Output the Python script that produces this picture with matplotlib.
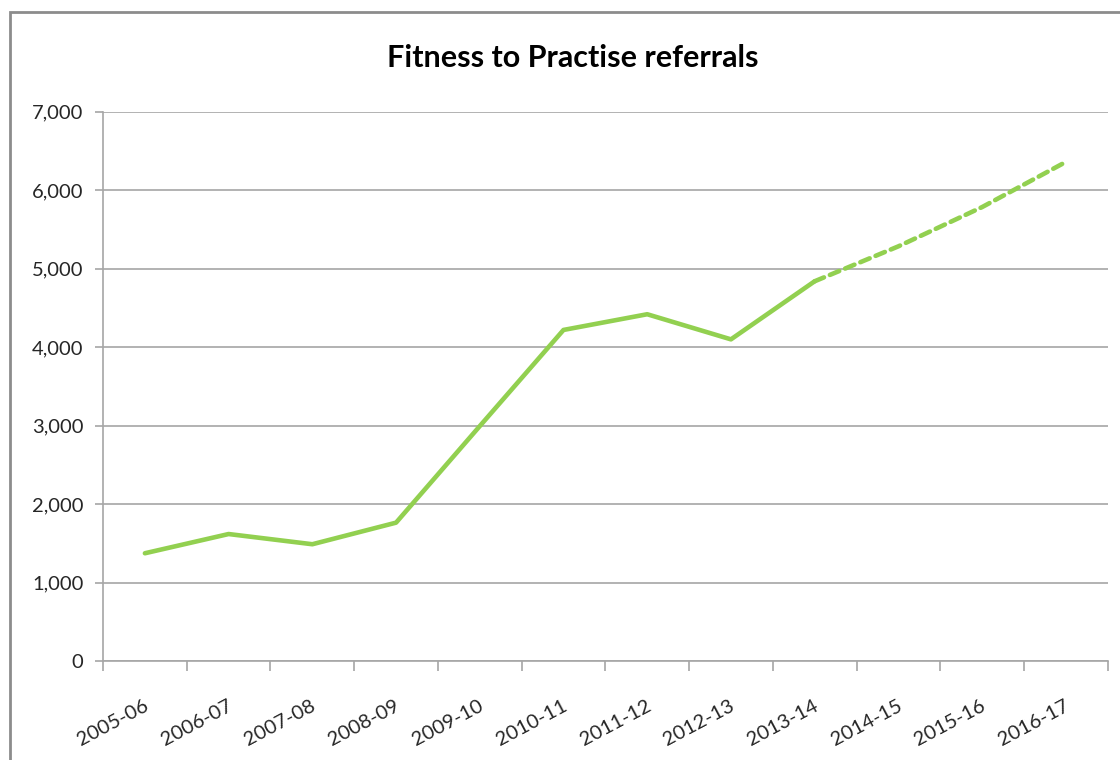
import matplotlib
matplotlib.use('Agg')
import matplotlib.pyplot as plt
from matplotlib.patches import Rectangle

# data
years = ['2005-06', '2006-07', '2007-08', '2008-09', '2009-10', '2010-11',
         '2011-12', '2012-13', '2013-14', '2014-15', '2015-16', '2016-17']
actual = [1375, 1620, 1490, 1765, 2995, 4220, 4420, 4100, 4840]
forecast = [4840, 5285, 5785, 6360]

green = '#92D050'
grey = '#a6a6a6'

plt.rcParams['font.family'] = ['Lato', 'DejaVu Sans']

fig = plt.figure(figsize=(11.2, 7.6), dpi=100)
ax = fig.add_axes([0.092, 0.130, 0.897, 0.723])

# outer chart border
fig.patches.append(Rectangle((10 / 1120, -0.05), 1.1, 0.05 + 1 - 12 / 760,
                             transform=fig.transFigure, fill=False,
                             edgecolor='#8c8c8c', linewidth=2))

x_act = list(range(len(actual)))
x_fc = list(range(len(actual) - 1, len(actual) - 1 + len(forecast)))
ax.plot(x_act, actual, color=green, linewidth=3.3, solid_capstyle='round')
ax.plot(x_fc, forecast, color=green, linewidth=3.3, linestyle=(0, (2.2, 1.4)),
        dash_capstyle='round')

ax.set_xlim(-0.5, len(years) - 0.5)
ax.set_ylim(0, 7000)
ax.set_yticks(range(0, 7001, 1000))
ax.set_yticklabels([f'{v:,}' for v in range(0, 7001, 1000)], fontsize=14.5,
                   color='#262626')
ax.yaxis.grid(True, color=grey, linewidth=1.2)
ax.set_axisbelow(True)

# category labels between boundary ticks
ax.set_xticks([i - 0.5 for i in range(len(years) + 1)])
ax.set_xticklabels([])
ax.set_xticks([i - 0.02 for i in range(len(years))], minor=True)
ax.set_xticklabels(years, minor=True, rotation=28, ha='right',
                   rotation_mode='anchor', fontsize=14.5, color='#262626')
ax.tick_params(axis='x', which='minor', length=0, pad=26)
ax.tick_params(axis='x', which='major', length=7, color=grey, width=1.2)
ax.tick_params(axis='y', length=6, color=grey, width=1.2, pad=8)

for s in ['top', 'right']:
    ax.spines[s].set_visible(False)
for s in ['left', 'bottom']:
    ax.spines[s].set_color(grey)
    ax.spines[s].set_linewidth(1.2)

fig.text(0.511, 0.924, 'Fitness to Practise referrals', ha='center', va='center',
         fontsize=22, fontweight='bold')

fig.savefig('out.png', dpi=100)
